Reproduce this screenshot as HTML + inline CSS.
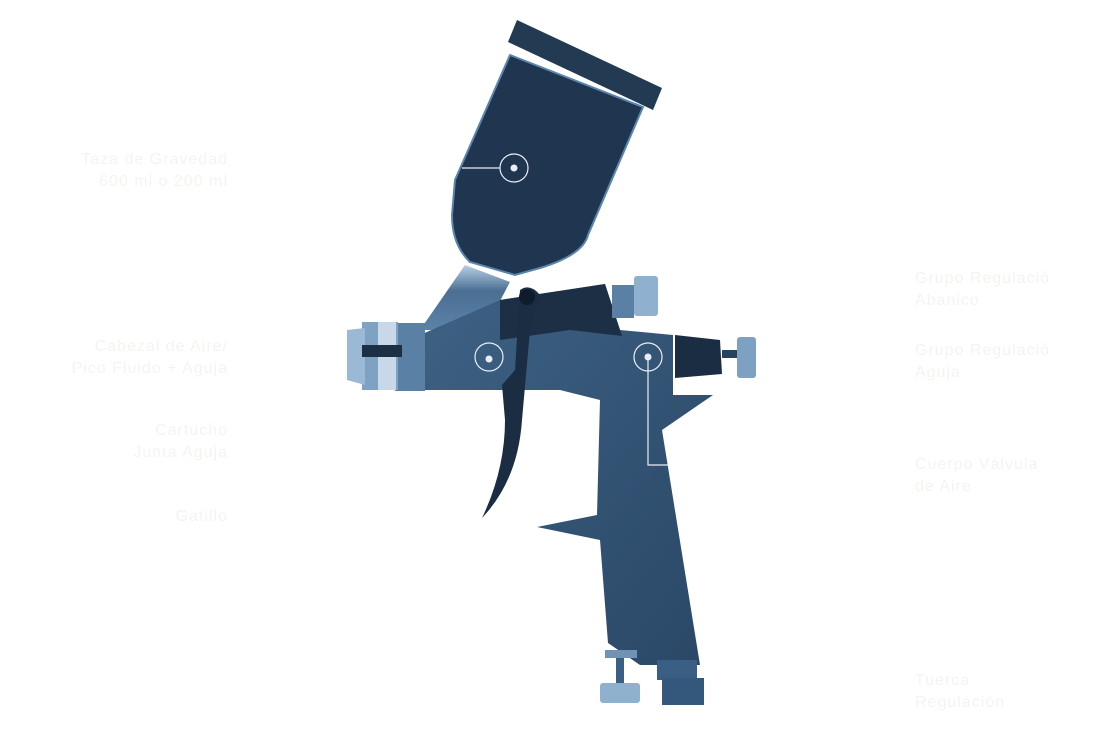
<!DOCTYPE html>
<html><head><meta charset="utf-8"><style>
html,body{margin:0;padding:0;background:#fff;}
.w{position:relative;width:1110px;height:736px;overflow:hidden;background:#fff;font-family:"Liberation Sans",sans-serif;}
.t{position:absolute;color:#f4f4ef;font-size:16px;line-height:22px;letter-spacing:1px;}
.r{text-align:right;}
</style></head><body><div class="w">
<svg width="1110" height="736" style="position:absolute;left:0;top:0">
<defs>
<linearGradient id="g" x1="0" y1="0" x2="1" y2="1"><stop offset="0" stop-color="#3e6285"/><stop offset="1" stop-color="#2a4766"/></linearGradient>
<linearGradient id="m" x1="0" y1="0" x2="0" y2="1"><stop offset="0" stop-color="#b8cfe4"/><stop offset="0.4" stop-color="#4a6f93"/><stop offset="1" stop-color="#5c82a8"/></linearGradient>
</defs>
<!-- cup cap -->
<polygon points="517,20 662,88 653,110 508,42" fill="#233a53"/>
<!-- cup body -->
<path d="M510,55 L643,107 L588,235 Q583,255 540,268 L515,275 L470,262 Q452,245 452,215 L455,180 Z" fill="#1f3550" stroke="#5a85ad" stroke-width="2"/>
<!-- neck -->
<path d="M465,265 L510,282 L490,320 L440,330 L420,330 Z" fill="url(#m)"/>
<!-- body top -->
<path d="M420,335 L500,300 L605,284 L620,330 L673,335 L673,395 L713,395 L662,430 L700,665 L640,665 L608,643 L600,540 L537,527 L597,515 L600,400 L560,390 L420,390 Z" fill="url(#g)"/>
<path d="M500,300 L605,284 L622,336 L570,330 L500,340 Z" fill="#1c2f45"/>
<!-- head -->
<rect x="395" y="323" width="30" height="68" fill="#5a80a6"/>
<rect x="362" y="322" width="36" height="68" fill="#7fa1c2"/>
<rect x="378" y="322" width="18" height="68" fill="#c8d8e8"/>
<polygon points="347,330 365,328 365,385 347,380" fill="#9bb8d4"/>
<rect x="362" y="345" width="40" height="12" fill="#1c2f45"/>
<!-- rear -->
<polygon points="675,335 720,340 722,374 675,378" fill="#1b2d42"/>
<rect x="722" y="350" width="16" height="8" fill="#28425e"/>
<rect x="737" y="337" width="19" height="41" rx="3" fill="#7ea0c2"/>
<!-- fan knob -->
<rect x="612" y="285" width="22" height="33" fill="#5a80a6"/>
<rect x="634" y="276" width="24" height="40" rx="3" fill="#8fb0cf"/>
<!-- trigger -->
<path d="M520,290 Q530,283 540,295 L530,330 L522,420 Q518,480 482,518 Q505,470 505,420 L502,385 L515,370 Z" fill="#1b2d42"/>
<circle cx="527" cy="297" r="8" fill="#0f1c2b"/>
<!-- bottom fittings -->
<rect x="657" y="660" width="40" height="20" fill="#3b5f84"/>
<rect x="662" y="678" width="42" height="27" fill="#34587c"/>
<rect x="605" y="650" width="32" height="8" fill="#6f92b5"/>
<rect x="616" y="658" width="8" height="25" fill="#3b5f84"/>
<rect x="600" y="683" width="40" height="20" rx="3" fill="#8fb0cf"/>
<!-- markers -->
<g stroke="#e8eef3" stroke-width="1.2" fill="none">
<line x1="462" y1="168" x2="500" y2="168"/><circle cx="514" cy="168" r="14"/>
<circle cx="489" cy="357" r="14"/>
<circle cx="648" cy="357" r="14"/><polyline points="648,357 648,465 668,465"/>
</g>
<g fill="#e8eef3"><circle cx="514" cy="168" r="3.5"/><circle cx="489" cy="359" r="3.5"/><circle cx="648" cy="357" r="3.5"/></g>
</svg>
<div class="t r" style="left:40px;top:149px;width:188px">Taza de Gravedad<br>600 ml o 200 ml</div>
<div class="t r" style="left:20px;top:336px;width:208px">Cabezal de Aire/<br>Pico Fluido + Aguja</div>
<div class="t r" style="left:40px;top:420px;width:188px">Cartucho<br>Junta Aguja</div>
<div class="t r" style="left:40px;top:506px;width:188px">Gatillo</div>
<div class="t" style="left:915px;top:268px">Grupo Regulació<br>Abanico</div>
<div class="t" style="left:915px;top:340px">Grupo Regulació<br>Aguja</div>
<div class="t" style="left:915px;top:454px">Cuerpo Válvula<br>de Aire</div>
<div class="t" style="left:915px;top:670px">Tuerca<br>Regulación</div>
</div></body></html>
